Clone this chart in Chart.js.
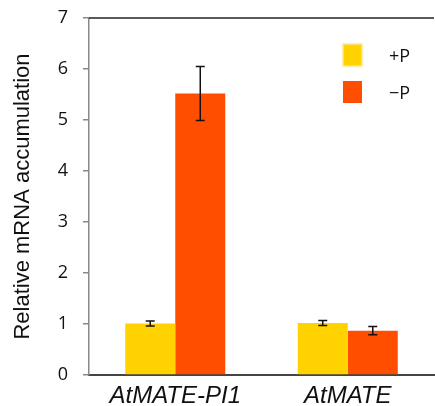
<!DOCTYPE html>
<html>
<head>
<meta charset="utf-8">
<script src="https://cdn.jsdelivr.net/npm/chart.js@4/dist/chart.umd.min.js"></script>
<style>
  html, body { margin: 0; padding: 0; background: #fff; }
  #wrap { width: 435px; height: 406px; }
</style>
</head>
<body>
<div id="wrap"><canvas id="c" width="435" height="406"></canvas></div>
<script>
// Genes and treatments
const categories = ['AtMATE-PI1', 'AtMATE'];
const seriesLabels = ['+P', '\u2212P'];
const plusP = [1.01, 1.02];
const minusP = [5.52, 0.87];
const plusPErr = [0.05, 0.05];
const minusPErr = [0.53, 0.08];
const yTicks = [0, 1, 2, 3, 4, 5, 6, 7];

const yellow = '#FFD200';
const orange = '#FF4E00';
const errs = [plusPErr, minusPErr];

// Error bars, drawn from each bar's value ± its error
const errorBars = {
  id: 'errorBars',
  afterDatasetsDraw(chart) {
    const ctx = chart.ctx;
    const y = chart.scales.y;
    ctx.save();
    ctx.strokeStyle = '#111';
    ctx.lineWidth = 1.5;
    chart.data.datasets.forEach((ds, di) => {
      const meta = chart.getDatasetMeta(di);
      meta.data.forEach((bar, i) => {
        const v = ds.data[i], e = errs[di][i];
        const x = bar.x;
        const yTop = y.getPixelForValue(v + e);
        const yBot = y.getPixelForValue(v - e);
        const cap = 4.5;
        ctx.beginPath();
        ctx.moveTo(x, yTop); ctx.lineTo(x, yBot);
        ctx.moveTo(x - cap, yTop); ctx.lineTo(x + cap, yTop);
        ctx.moveTo(x - cap, yBot); ctx.lineTo(x + cap, yBot);
        ctx.stroke();
      });
    });
    ctx.restore();
  }
};

// Top frame line and the in-plot legend
const frameAndLegend = {
  id: 'frameAndLegend',
  afterDraw(chart) {
    const ctx = chart.ctx;
    const a = chart.chartArea;
    ctx.save();
    ctx.strokeStyle = '#222';
    ctx.lineWidth = 1.5;
    ctx.beginPath();
    ctx.moveTo(a.left, a.top);
    ctx.lineTo(a.right, a.top);
    ctx.stroke();

    const items = chart.data.datasets;
    const boxX = 343, boxW = 19, boxH = 22;
    const rows = [44, 81];
    ctx.font = '18px "Open Sans", sans-serif';
    ctx.textBaseline = 'middle';
    ctx.textAlign = 'left';
    items.forEach((ds, i) => {
      const top = rows[i];
      ctx.fillStyle = ds.backgroundColor;
      ctx.fillRect(boxX, top, boxW, boxH);
      if (i === 0) {
        ctx.strokeStyle = '#FFE59A';
        ctx.lineWidth = 1.5;
        ctx.strokeRect(boxX, top, boxW, boxH);
      }
      ctx.fillStyle = '#111';
      ctx.fillText(ds.label, 389, top + boxH / 2 + 2);
    });
    ctx.restore();
  }
};

new Chart(document.getElementById('c'), {
  type: 'bar',
  data: {
    labels: categories,
    datasets: [
      { label: seriesLabels[0], data: plusP, backgroundColor: yellow },
      { label: seriesLabels[1], data: minusP, backgroundColor: orange }
    ]
  },
  options: {
    responsive: false,
    animation: false,
    devicePixelRatio: 1,
    layout: { padding: { left: 0, top: 18, right: 1, bottom: 0 } },
    datasets: { bar: { barPercentage: 1.0, categoryPercentage: 0.58 } },
    plugins: {
      legend: { display: false },
      tooltip: { enabled: false }
    },
    scales: {
      x: {
        grid: { display: false, drawTicks: false },
        border: { display: true, color: '#444', width: 2 },
        ticks: {
          color: '#111',
          padding: 7,
          font: { family: '"Liberation Sans", Arial, sans-serif', size: 24, style: 'italic' }
        },
        afterFit(s) { s.height = 31; s.paddingLeft = 0; s.paddingRight = 0; }
      },
      y: {
        min: 0,
        max: 7,
        afterBuildTicks(s) { s.ticks = yTicks.map(v => ({ value: v })); },
        grid: { drawOnChartArea: false, drawTicks: true, tickLength: 6, color: '#888', lineWidth: 1.5 },
        border: { display: true, color: '#888', width: 1.5 },
        ticks: {
          color: '#111',
          padding: 15,
          font: { family: '"Open Sans", sans-serif', size: 18 }
        },
        title: {
          display: true,
          text: 'Relative mRNA accumulation',
          color: '#111',
          padding: { top: 10, bottom: 0 },
          font: { family: '"Liberation Sans", Arial, sans-serif', size: 22 }
        },
        afterFit(s) { s.width = 89; s.paddingTop = 0; s.paddingBottom = 0; }
      }
    }
  },
  plugins: [errorBars, frameAndLegend]
});
</script>
</body>
</html>
